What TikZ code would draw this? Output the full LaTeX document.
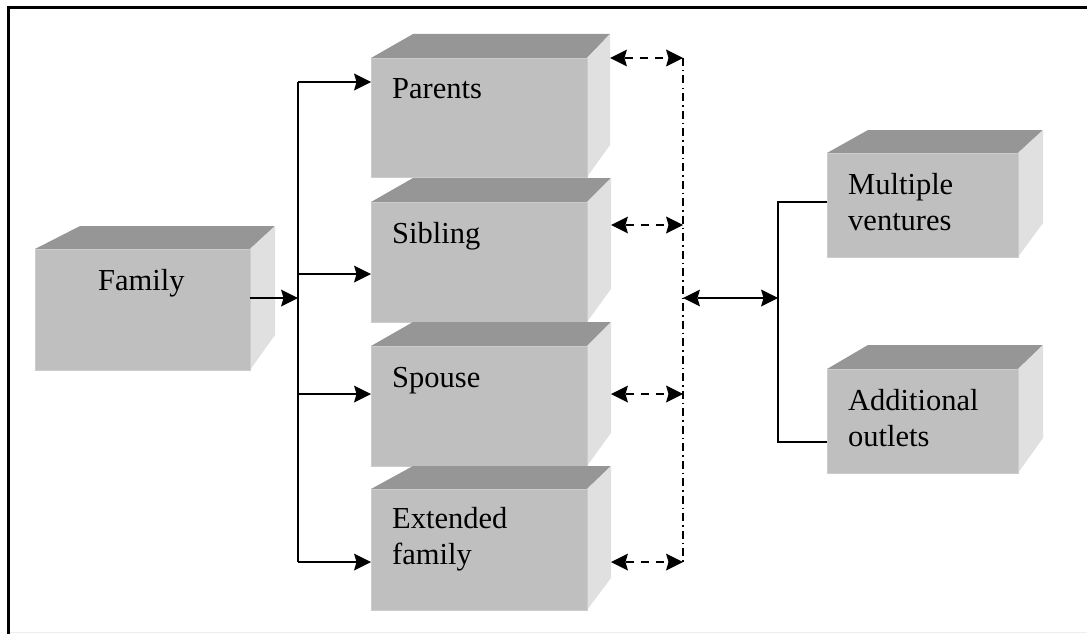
\documentclass[tikz,border=0pt]{standalone}
\usepackage{fontspec}
\setmainfont{Liberation Serif}
\usetikzlibrary{arrows.meta,calc}

% 3-D block: front face is a named node, top and side faces are filled behind it
% #1 name, (#2,#3)-(#4,#5) front face, #6 back edge y, #7 back-left x, #8 back-right x, #9 side bottom y
\newcommand\blockthreed[9]{%
  \fill[topface] (#2,#3) -- (#7,#6) -- (#8,#6) -- (#4,#3) -- cycle;
  \fill[sideface] (#4,#3) -- (#8,#6) -- (#8,#9) -- (#4,#5) -- cycle;
  \node[frontface, anchor=north west,
        minimum width={(#4-#2)*1pt}, minimum height={(#5-#3)*1pt}] (#1) at (#2,#3) {};
  \coordinate (#1back) at (#8,#6);
}

\tikzset{
  topface/.style={fill=black!41},
  sideface/.style={fill=black!12},
  frontface/.style={fill=black!25, draw=black!20, line width=0.8pt, inner sep=0pt, outer sep=0pt},
  label/.style={anchor=base west, inner sep=0pt, align=left,
                font=\fontsize{30.5}{36}\selectfont},
  head/.tip={Stealth[length=17pt,width=17pt,inset=2.5pt,line width=0pt]},
  arr/.style={-head, line width=2.2pt},
  darr/.style={head-head, line width=2.4pt, dash pattern=on 8pt off 7pt},
  sarr/.style={head-head, line width=2.2pt},
  bus/.style={line width=2pt},
  dashdotline/.style={line width=1.6pt, dash pattern=on 8pt off 4pt on 1.5pt off 4pt},
}

\begin{document}
\begin{tikzpicture}[x=1pt, y=-1pt]
  \useasboundingbox (0,0) rectangle (1087,634);

  % outer frame
  \draw[black!7, line width=1pt] (8.5,632.5) -- (1087,632.5);
  \draw[line width=3pt] (8.5,634) -- (8.5,8) -- (1087,8);

  % blocks
  \blockthreed{family}{35}{249}{250}{370}{226}{80}{275}{335}
  \blockthreed{parents}{371}{58}{587}{177}{34}{413}{610}{145}
  \blockthreed{sibling}{371}{202}{587}{322}{178}{413}{611}{289}
  \blockthreed{spouse}{371}{346}{587}{466}{322}{413}{611}{433}
  \blockthreed{extended}{371}{489}{587}{610}{466}{413}{611}{578}
  \blockthreed{multiple}{827}{153}{1018}{257}{130}{868}{1043}{223}
  \blockthreed{additional}{827}{369}{1018}{473}{345}{868}{1043}{438}

  % labels (two-line labels are placed by their last baseline)
  \node[label] (tfamily) at (98,290) {Family};
  \node[label] (tparents) at (392,98) {Parents};
  \node[label] (tsibling) at (392,243) {Sibling};
  \node[label] (tspouse) at (392,387) {Spouse};
  \node[label] (textended) at (392,564) {Extended\\family};
  \node[label] (tmultiple) at (848,230) {Multiple\\ventures};
  \node[label] (tadditional) at (848,446) {Additional\\outlets};

  % left distribution bus
  \coordinate (busTop) at (298,82);
  \coordinate (busSib) at (298,274);
  \coordinate (busFam) at (298,298);
  \coordinate (busSpo) at (298,394);
  \coordinate (busBot) at (298,562);
  \draw[bus] (busTop) -- (busBot);
  \draw[arr] (family.east |- busFam) -- (busFam);
  \draw[arr] (busTop) -- (parents.west |- busTop);
  \draw[arr] (busSib) -- (sibling.west |- busSib);
  \draw[arr] (busSpo) -- (spouse.west |- busSpo);
  \draw[arr] (busBot) -- (extended.west |- busBot);

  % dash-dot collector with dashed links
  \coordinate (colTop) at (683,58);
  \coordinate (colSib) at (683,225);
  \coordinate (colSpo) at (683,394);
  \coordinate (colBot) at (683,562);
  \coordinate (colMid) at (683,298);
  \draw[dashdotline] (colTop) -- (colBot);
  \draw[darr] (parentsback |- colTop) -- (colTop);
  \draw[darr] (siblingback |- colSib) -- (colSib);
  \draw[darr] (spouseback |- colSpo) -- (colSpo);
  \draw[darr] (extendedback |- colBot) -- (colBot);

  % right branch
  \coordinate (rTop) at (778,202);
  \coordinate (rMid) at (778,298);
  \coordinate (rBot) at (778,442);
  \draw[sarr] (colMid) -- (rMid);
  \draw[bus, line width=1.6pt] (multiple.west |- rTop) -- (rTop) -- (rBot) -- (additional.west |- rBot);
\end{tikzpicture}
\end{document}
